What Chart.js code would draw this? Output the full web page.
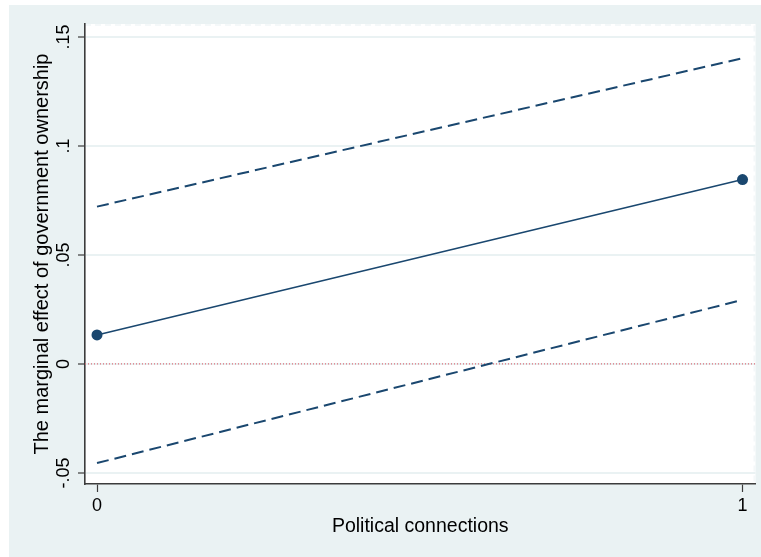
<!DOCTYPE html>
<html>
<head>
<meta charset="utf-8">
<script src="https://cdn.jsdelivr.net/npm/chart.js@4.4.0/dist/chart.umd.min.js"></script>
<style>
  html, body { margin: 0; padding: 0; background: #ffffff; }
  #wrap { width: 761px; height: 557px; }
</style>
</head>
<body>
<div id="wrap"><canvas id="marginalChart" width="761" height="557"></canvas></div>
<script>
//* Datos del gráfico
const xValues = [0, 1];
const estimate = [0.0133, 0.0846];
const upperCI = [0.0722, 0.1403];
const lowerCI = [-0.0455, 0.0294];
const xTicks = [0, 1];
const yTicks = [-0.05, 0, 0.05, 0.1, 0.15];

//* Rango de los ejes
const xMin = -0.0186, xMax = 1.0201;
const yMin = -0.0551, yMax = 0.156;

//* Colores estilo Stata
const navy = "#1a476f";
const bgOuter = "#eaf2f3";
const gridColor = "#eaf2f3";
const axisColor = "#3c3c3c";
const fontFamily = "'Liberation Sans', Arial, sans-serif";

const toPoints = (ys) => xValues.map((x, i) => ({ x: x, y: ys[i] }));

//* Etiquetas sin cero inicial: .05, -.05
const stataLabel = (v) => {
	if (Math.abs(v) < 1e-9) return "0";
	let s = String(Math.round(v * 100) / 100);
	return s.replace("0.", ".");
};

//* Fondo exterior, región del gráfico en blanco y borde discontinuo
const backgroundPlugin = {
	id: "backgroundPlugin",
	beforeDraw(chart) {
		const { ctx, chartArea: a, width, height } = chart;
		ctx.save();
		ctx.fillStyle = "#ffffff";
		ctx.fillRect(0, 0, width, height);
		ctx.fillStyle = bgOuter;
		ctx.fillRect(9, 5, width - 9, height - 5);
		ctx.fillStyle = "#ffffff";
		ctx.fillRect(a.left, a.top, a.right - a.left, a.bottom - a.top);
		ctx.strokeStyle = "#f4f8f9";
		ctx.lineWidth = 2;
		ctx.setLineDash([6, 4]);
		ctx.beginPath();
		ctx.moveTo(a.left, a.top + 1);
		ctx.lineTo(a.right - 1, a.top + 1);
		ctx.lineTo(a.right - 1, a.bottom);
		ctx.stroke();
		ctx.restore();
	},
};

const options = {
	type: "line",
	data: {
		datasets: [
			//* Línea de referencia en cero
			{
				data: [{ x: xMin, y: 0 }, { x: xMax, y: 0 }],
				borderColor: "#de6f79",
				borderWidth: 1.2,
				borderDash: [1, 2],
				pointRadius: 0,
				order: 3,
			},
			//* Intervalo superior
			{
				data: toPoints(upperCI),
				borderColor: navy,
				borderWidth: 2,
				borderDash: [12, 6],
				pointRadius: 0,
				order: 2,
			},
			//* Intervalo inferior
			{
				data: toPoints(lowerCI),
				borderColor: navy,
				borderWidth: 2,
				borderDash: [12, 6],
				pointRadius: 0,
				order: 2,
			},
			//* Efecto marginal estimado
			{
				data: toPoints(estimate),
				borderColor: navy,
				borderWidth: 1.6,
				pointRadius: 5.5,
				pointBackgroundColor: navy,
				pointBorderColor: navy,
				pointBorderWidth: 0,
				order: 1,
			},
		],
	},
	options: {
		responsive: false,
		animation: false,
		devicePixelRatio: 1,
		layout: { padding: { top: 24, right: 4, left: 0, bottom: 0 } },
		plugins: {
			legend: { display: false },
			tooltip: { enabled: false },
		},
		elements: { line: { tension: 0 } },
		scales: {
			x: {
				type: "linear",
				min: xMin,
				max: xMax,
				afterBuildTicks: (scale) => {
					scale.ticks = xTicks.map((v) => ({ value: v }));
				},
				afterFit: (scale) => {
					scale.height = 73;
				},
				grid: {
					drawOnChartArea: false,
					tickLength: 8,
					tickColor: axisColor,
					tickWidth: 1.2,
				},
				border: { color: axisColor, width: 1.6 },
				ticks: {
					color: "#000000",
					padding: 3,
					maxRotation: 0,
					font: { size: 18, family: fontFamily },
					callback: (v) => stataLabel(v),
				},
				title: {
					display: true,
					text: "Political connections",
					color: "#000000",
					font: { size: 19.5, family: fontFamily },
					padding: { top: 0, bottom: 19 },
				},
			},
			y: {
				type: "linear",
				min: yMin,
				max: yMax,
				afterBuildTicks: (scale) => {
					scale.ticks = yTicks.map((v) => ({ value: v }));
				},
				afterFit: (scale) => {
					scale.width = 85;
				},
				grid: {
					color: gridColor,
					lineWidth: 2,
					tickLength: 7,
					tickColor: axisColor,
					tickWidth: 1.2,
				},
				border: { color: axisColor, width: 1.6 },
				ticks: {
					color: "#000000",
					padding: -2,
					minRotation: 90,
					maxRotation: 90,
					crossAlign: "center",
					font: { size: 18, family: fontFamily },
					callback: (v) => stataLabel(v),
				},
				title: {
					display: true,
					text: "The marginal effect of government ownership",
					color: "#000000",
					font: { size: 20, family: fontFamily },
					padding: { top: 30, bottom: 0 },
				},
			},
		},
	},
	plugins: [backgroundPlugin],
};

//* Dibujamos el gráfico
const ctx = document.getElementById("marginalChart");
const marginalChart = new Chart(ctx, options);
</script>
</body>
</html>
